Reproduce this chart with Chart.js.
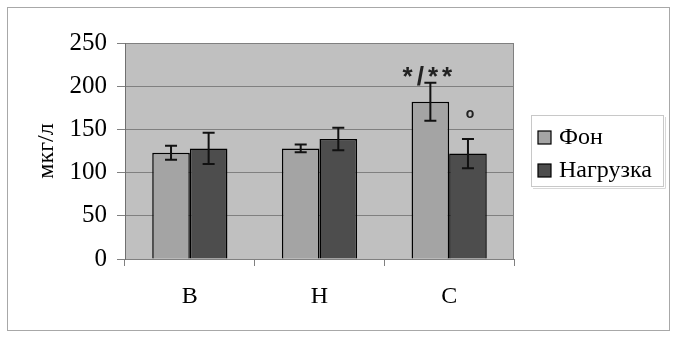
<!DOCTYPE html>
<html>
<head>
<meta charset="utf-8">
<script src="https://cdn.jsdelivr.net/npm/chart.js"></script>
<style>
  html, body { margin: 0; padding: 0; background: #fff; }
  #wrap { width: 674px; height: 337px; }
</style>
</head>
<body>
<div id="wrap"><canvas id="chart" width="674" height="337"></canvas></div>
<script>
// data
const groups = ['В', 'Н', 'С'];
const seriesNames = ['Фон', 'Нагрузка'];
const fon = [123, 128, 182];
const fonErr = [8, 4.5, 22];
const load = [128, 139, 122];
const loadErr = [18, 13, 17];
const fonMarks = ['', '', '*/**'];
const loadMarks = ['', '', 'o'];
const yTicks = [0, 50, 100, 150, 200, 250];

const serif = "'Liberation Serif', 'Times New Roman', serif";

// frame + plot background
const backPlugin = {
  id: 'back',
  beforeDraw(chart) {
    const ctx = chart.ctx, a = chart.chartArea;
    ctx.save();
    ctx.strokeStyle = '#a8a8a8';
    ctx.lineWidth = 1;
    ctx.strokeRect(7.5, 7.5, 662, 323);
    ctx.fillStyle = '#c0c0c0';
    ctx.fillRect(a.left, a.top, a.right - a.left, a.bottom - a.top);
    ctx.strokeStyle = '#808080';
    ctx.strokeRect(a.left + 0.5, a.top + 0.5, a.right - a.left - 1, a.bottom - a.top);
    ctx.restore();
  }
};

// error bars and significance marks
const errPlugin = {
  id: 'errs',
  afterDatasetsDraw(chart) {
    const ctx = chart.ctx, y = chart.scales.y;
    const errs = [fonErr, loadErr];
    const marks = [fonMarks, loadMarks];
    ctx.save();
    chart.data.datasets.forEach((ds, di) => {
      const meta = chart.getDatasetMeta(di);
      meta.data.forEach((bar, i) => {
        const v = ds.data[i], e = errs[di][i];
        const top = y.getPixelForValue(v + e), bot = y.getPixelForValue(v - e);
        ctx.strokeStyle = '#111';
        ctx.lineWidth = 2;
        ctx.beginPath();
        ctx.moveTo(bar.x, top); ctx.lineTo(bar.x, bot);
        ctx.moveTo(bar.x - 6, top); ctx.lineTo(bar.x + 6, top);
        ctx.moveTo(bar.x - 6, bot); ctx.lineTo(bar.x + 6, bot);
        ctx.stroke();
        const m = marks[di][i];
        if (m) {
          ctx.fillStyle = '#222';
          ctx.textAlign = 'center';
          ctx.textBaseline = 'alphabetic';
          if (di === 0) {
            ctx.font = "bold 26px 'Liberation Sans', Arial, sans-serif";
            ctx.letterSpacing = '4px';
            ctx.fillText(m, bar.x - 1, top + 2);
          } else {
            ctx.font = "bold 14px 'Liberation Sans', Arial, sans-serif";
            ctx.letterSpacing = '0px';
            ctx.fillText(m, bar.x + 2, top - 20.5);
          }
        }
      });
    });
    ctx.restore();
  }
};

// boxed legend on the right
const legendPlugin = {
  id: 'boxLegend',
  afterDraw(chart) {
    const ctx = chart.ctx;
    ctx.save();
    ctx.fillStyle = '#fff';
    ctx.fillRect(531, 115, 132, 71);
    ctx.strokeStyle = '#c8c8c8';
    ctx.lineWidth = 1;
    ctx.strokeRect(531.5, 115.5, 132, 71);
    ctx.strokeStyle = '#d8d8d8';
    ctx.beginPath();
    ctx.moveTo(533, 188.5); ctx.lineTo(665.5, 188.5); ctx.lineTo(665.5, 117);
    ctx.stroke();
    const rows = [137, 170];
    chart.data.datasets.forEach((ds, i) => {
      ctx.fillStyle = ds.backgroundColor;
      ctx.fillRect(538, rows[i] - 6, 13, 13);
      ctx.strokeStyle = '#000';
      ctx.lineWidth = 1.2;
      ctx.strokeRect(538, rows[i] - 6, 13, 13);
      ctx.fillStyle = '#000';
      ctx.font = '24px ' + serif;
      ctx.textAlign = 'left';
      ctx.textBaseline = 'middle';
      ctx.fillText(ds.label, 559, rows[i] + 1);
    });
    ctx.restore();
  }
};

new Chart(document.getElementById('chart'), {
  type: 'bar',
  data: {
    labels: groups,
    datasets: [
      { label: seriesNames[0], data: fon, backgroundColor: '#a4a4a4', borderColor: '#000', borderWidth: 1.5 },
      { label: seriesNames[1], data: load, backgroundColor: '#4d4d4d', borderColor: '#000', borderWidth: 1.5 }
    ]
  },
  options: {
    responsive: false,
    animation: false,
    layout: { padding: { left: 10, top: 43, right: 160, bottom: 0 } },
    plugins: { legend: { display: false }, tooltip: { enabled: false } },
    datasets: { bar: { categoryPercentage: 0.58, barPercentage: 1 } },
    scales: {
      x: {
        afterFit(s) { s.height = 78; },
        grid: { display: true, drawOnChartArea: false, offset: true, tickLength: 7, color: '#808080' },
        border: { color: '#808080' },
        ticks: { color: '#000', padding: 16, font: { family: serif, size: 24 } }
      },
      y: {
        min: 0, max: 250,
        afterFit(s) { s.width = 115; },
        afterBuildTicks(s) { s.ticks = yTicks.map(v => ({ value: v })); },
        grid: { color: '#808080', tickLength: 8 },
        border: { color: '#707070' },
        ticks: { color: '#000', padding: 10, font: { family: serif, size: 25 } },
        title: { display: true, text: 'мкг/л', color: '#000', padding: { top: 22 }, font: { family: serif, size: 24 } }
      }
    }
  },
  plugins: [backPlugin, errPlugin, legendPlugin]
});
</script>
</body>
</html>
